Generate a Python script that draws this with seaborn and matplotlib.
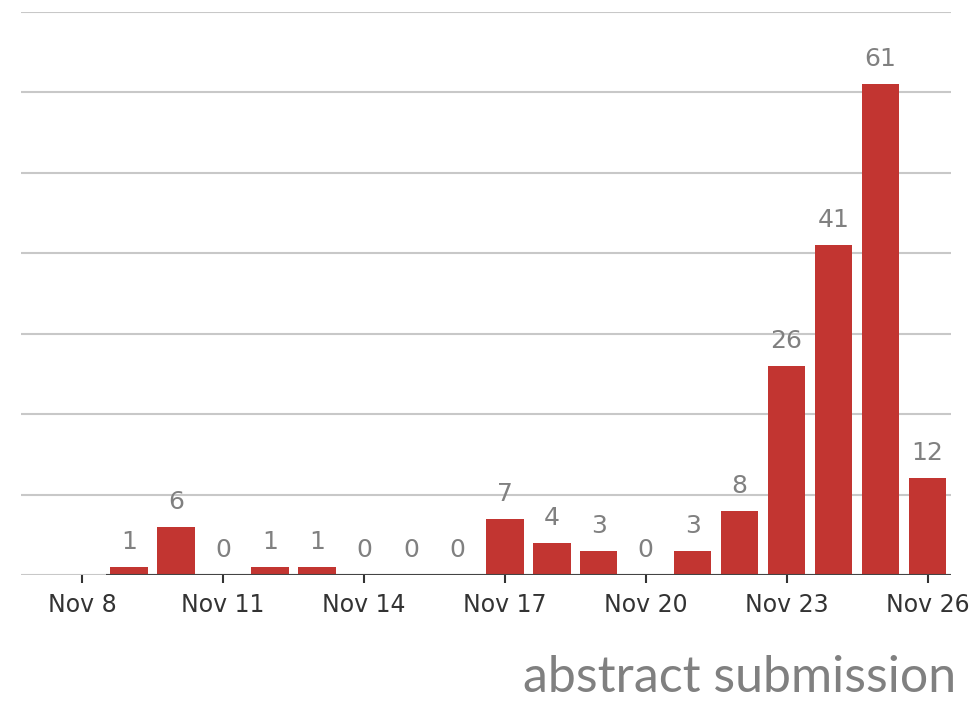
import numpy as np
import pandas as pd
import matplotlib
matplotlib.use("Agg")
import matplotlib.pyplot as plt
import seaborn as sns

# submissions per day in November
days = [9, 10, 11, 12, 13, 14, 15, 16, 17, 18, 19, 20, 21, 22, 23, 24, 25, 26]
counts = [1, 6, 0, 1, 1, 0, 0, 0, 7, 4, 3, 0, 3, 8, 26, 41, 61, 12]
tick_days = [8, 11, 14, 17, 20, 23, 26]
tick_labels = [f"Nov {d}" for d in tick_days]
title = "abstract submission"

df = pd.DataFrame({"day": days, "count": counts})

sns.set_style("white")
plt.rcParams['font.family'] = ['DejaVu Sans']

fig = plt.figure(figsize=(9.8, 7.09), dpi=100)
ax = fig.add_axes([0.0214, 0.189, 0.9490, 0.794])

sns.barplot(data=df, x="day", y="count", native_scale=True, width=0.8,
            color="#c23531", saturation=1, edgecolor="none", ax=ax)

ax.set_xlim(6.7, 26.5)
ax.set_ylim(0, 70)
ax.set_yticks(np.arange(0, 71, 10))
ax.yaxis.grid(True, color="#c8c8c8", linewidth=1.5)
ax.set_axisbelow(True)
ax.tick_params(axis="y", left=False, labelleft=False)
ax.set_xticks(tick_days)
ax.set_xticklabels(tick_labels, fontsize=17, color="#333333")
ax.tick_params(axis="x", direction="out", length=6, width=1.5, color="#333333",
               bottom=True, pad=7)
for s in ax.spines.values():
    s.set_visible(False)
ax.set_xlabel("")
ax.set_ylabel("")

# dark baseline under the bars only
ax.hlines(0, min(days) - 0.5, max(days) + 0.5, color="#444444", linewidth=1.5, zorder=3)

for d, c in zip(days, counts):
    ax.annotate(str(c), (d, c), xytext=(0, 13), textcoords="offset points",
                ha="center", va="baseline", fontsize=18, color="#808080")

fig.text(0.976, 0.024, title, ha="right", va="baseline", fontsize=36,
         color="#808080", family=["Lato", "DejaVu Sans"])

fig.savefig("out.png", dpi=100)
